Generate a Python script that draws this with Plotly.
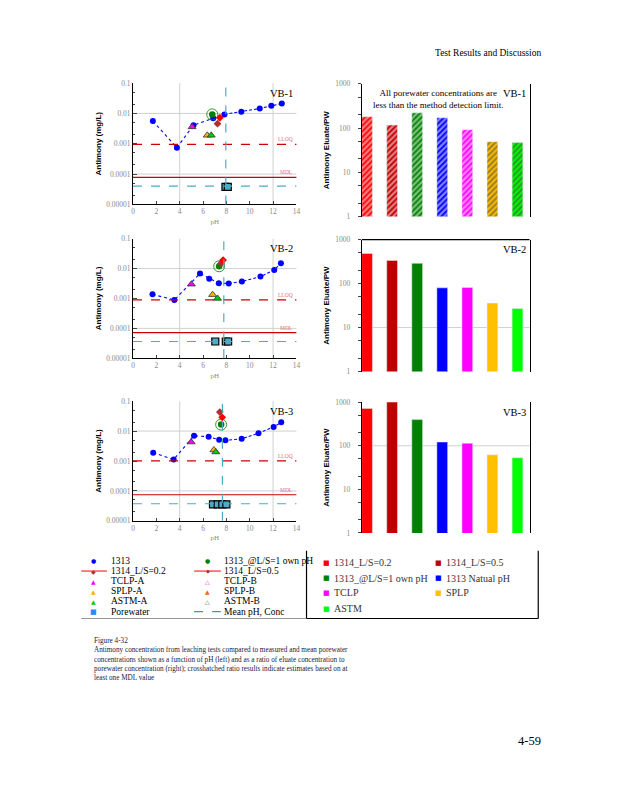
import math
import plotly.graph_objects as go

SERIF = "Liberation Serif"
SANS = "Liberation Sans"
GLYPH = "DejaVu Sans"

# ------------------------------------------------------------------ data
panels = ["VB-1", "VB-2", "VB-3"]

ph_1313 = {
    "VB-1": [1.70, 3.76, 5.18, 6.87, 7.83, 9.28, 10.86, 11.85, 12.75],
    "VB-2": [1.67, 3.54, 5.74, 6.53, 7.35, 8.20, 9.33, 10.92, 12.10, 12.67],
    "VB-3": [1.73, 3.48, 5.23, 6.48, 7.38, 7.92, 9.31, 10.75, 12.05, 12.70],
}
conc_1313 = {
    "VB-1": [0.0056, 0.00074, 0.0041, 0.0069, 0.0093, 0.0113, 0.0146, 0.0178, 0.0212],
    "VB-2": [0.00137, 0.00089, 0.0068, 0.0046, 0.00325, 0.00317, 0.0037, 0.0054, 0.0090, 0.0149],
    "VB-3": [0.0019, 0.00112, 0.0070, 0.0065, 0.0051, 0.0049, 0.0055, 0.0085, 0.0138, 0.0197],
}
ph_own = {"VB-1": [6.79], "VB-2": [7.38], "VB-3": [7.55]}
conc_own = {"VB-1": [0.0093], "VB-2": [0.0119], "VB-3": [0.0165]}
ph_ls02 = {"VB-1": [7.44], "VB-2": [7.72], "VB-3": [7.64]}
conc_ls02 = {"VB-1": [0.0072], "VB-2": [0.0192], "VB-3": [0.0288]}
ph_ls05 = {"VB-1": [7.24], "VB-2": [7.55], "VB-3": [7.44]}
conc_ls05 = {"VB-1": [0.0046], "VB-2": [0.0150], "VB-3": [0.0433]}
ph_tclp_a = {"VB-1": [5.06], "VB-2": [5.00], "VB-3": [4.98]}
conc_tclp_a = {"VB-1": [0.0036], "VB-2": [0.0030], "VB-3": [0.0043]}
ph_splp_a = {"VB-1": [6.36], "VB-2": [6.82], "VB-3": [6.93]}
conc_splp_a = {"VB-1": [0.0019], "VB-2": [0.00134], "VB-3": [0.00234]}
ph_astm_a = {"VB-1": [6.70], "VB-2": [7.24], "VB-3": [7.10]}
conc_astm_a = {"VB-1": [0.0019], "VB-2": [0.0010], "VB-3": [0.0020]}
ph_pore = {"VB-1": [7.92, 8.12], "VB-2": [7.05, 7.95, 8.15], "VB-3": [6.85, 7.25, 7.65, 8.00]}
conc_pore = {"VB-1": [0.000038, 0.000038], "VB-2": [0.0000363] * 3, "VB-3": [0.0000355] * 4}
mean_ph = {"VB-1": 7.95, "VB-2": 7.78, "VB-3": 7.66}
mean_conc = {"VB-1": 0.000040, "VB-2": 0.0000363, "VB-3": 0.0000372}
lloq = {"VB-1": 0.00095, "VB-2": 0.00089, "VB-3": 0.00101}
mdl = {"VB-1": 0.0000776, "VB-2": 0.0000723, "VB-3": 0.0000743}

bar_categories = ["1314_L/S=0.2", "1314_L/S=0.5", "1313_@L/S=1 own pH",
                  "1313 Natual pH", "TCLP", "SPLP", "ASTM"]
bar_colors = ["#FF0000", "#C00000", "#008000", "#0000FF", "#FF00FF", "#FFC000", "#00FF00"]
ratio = {
    "VB-1": [180, 117, 221, 171, 92, 49, 47],
    "VB-2": [485, 337, 289, 80, 82, 36, 27],
    "VB-3": [720, 1040, 398, 122, 114, 62, 53],
}
hatched = {"VB-1": True, "VB-2": False, "VB-3": False}

left_xticks = [0, 2, 4, 6, 8, 10, 12, 14]
left_yticks = [0.1, 0.01, 0.001, 0.0001, 0.00001]
left_yticktext = ["0.1", "0.01", "0.001", "0.0001", "0.00001"]
right_yticks = [1, 10, 100, 1000]
right_yticktext = ["1", "10", "100", "1000"]

# ------------------------------------------------------------------ layout helpers
W, H = 618, 800
def fx(px):
    return px / W
def fy(py):
    return 1 - py / H

left_dom_x = [fx(132.3), fx(297.3)]
right_dom_x = [fx(363.3), fx(532.7)]
left_dom_y = {"VB-1": (80.0, 202.7), "VB-2": (237.3, 358.3), "VB-3": (401.7, 522.7)}
right_dom_y = {"VB-1": (80.7, 215.0), "VB-2": (238.3, 371.7), "VB-3": (402.7, 535.0)}
split_idx = {"VB-1": 4, "VB-2": 4, "VB-3": 4}

TEAL = "#4BACC6"
TICKGREY = "#8a8a8a"

fig = go.Figure()
layout = dict(
    width=W, height=H, margin=dict(l=0, r=0, t=0, b=0),
    paper_bgcolor="white", plot_bgcolor="white", showlegend=False,
    font=dict(family=SERIF, size=9, color="black"),
)
shapes = []
annotations = []

for i, p in enumerate(panels):
    lx = 2 * i + 1
    rx = 2 * i + 2
    lxn = "x" if lx == 1 else f"x{lx}"
    lyn = "y" if lx == 1 else f"y{lx}"
    rxn = f"x{rx}"
    ryn = f"y{rx}"
    lxa = "xaxis" if lx == 1 else f"xaxis{lx}"
    lya = "yaxis" if lx == 1 else f"yaxis{lx}"

    # --- left axes
    y0, y1 = left_dom_y[p]
    layout[lxa] = dict(domain=left_dom_x, range=[0, 14], anchor=lyn,
                       tickvals=left_xticks, ticks="inside", ticklen=3,
                       showline=True, linecolor="black", linewidth=1,
                       showgrid=False, zeroline=False,
                       tickfont=dict(family=SERIF, size=7.5, color=TICKGREY),
                       title=dict(text="pH", font=dict(family=SERIF, size=7, color=TICKGREY), standoff=3))
    layout[lya] = dict(domain=[fy(y1), fy(y0)], type="log", range=[-5, -1], anchor=lxn,
                       tickvals=left_yticks, ticktext=left_yticktext, ticks="inside", ticklen=4,
                       minor=dict(ticks="inside", ticklen=2, dtick="D2", showgrid=False),
                       showline=True, linecolor="black", linewidth=1,
                       showgrid=False, zeroline=False,
                       tickfont=dict(family=SERIF, size=7.5, color=TICKGREY),
                       title=dict(text="<b>Antimony (mg/L)</b>", font=dict(family=SANS, size=8, color="black"), standoff=3))

    # grid lines (left)
    for gx in [4, 12]:
        shapes.append(dict(type="line", xref=lxn, yref=f"{lyn} domain", x0=gx, x1=gx, y0=0, y1=1,
                           line=dict(color="#d0d0d0", width=1), layer="below"))
    for gy in [0.01, 0.0001]:
        shapes.append(dict(type="line", xref=f"{lxn} domain", yref=lyn, x0=0, x1=1, y0=gy, y1=gy,
                           line=dict(color="#d0d0d0", width=1), layer="below"))
    # LLOQ / MDL / mean lines
    shapes.append(dict(type="line", xref=f"{lxn} domain", yref=lyn, x0=0, x1=1, y0=lloq[p], y1=lloq[p],
                       line=dict(color="#CC0000", width=1.2, dash="dash")))
    shapes.append(dict(type="line", xref=f"{lxn} domain", yref=lyn, x0=0, x1=1, y0=mdl[p], y1=mdl[p],
                       line=dict(color="#CC0000", width=1.2)))
    shapes.append(dict(type="line", xref=f"{lxn} domain", yref=lyn, x0=0, x1=1, y0=mean_conc[p], y1=mean_conc[p],
                       line=dict(color=TEAL, width=1.2, dash="dash")))
    shapes.append(dict(type="line", xref=lxn, yref=f"{lyn} domain", x0=mean_ph[p], x1=mean_ph[p], y0=0, y1=1,
                       line=dict(color=TEAL, width=1.2, dash="dash")))
    annotations.append(dict(text="LLOQ", xref=f"{lxn} domain", yref=lyn, x=0.99, y=math.log10(lloq[p]),
                            xanchor="right", yanchor="bottom", showarrow=False,
                            font=dict(family=SERIF, size=5.5, color="#E07070")))
    annotations.append(dict(text="MDL", xref=f"{lxn} domain", yref=lyn, x=0.99, y=math.log10(mdl[p]),
                            xanchor="right", yanchor="bottom", showarrow=False,
                            font=dict(family=SERIF, size=5.5, color="#E07070")))
    annotations.append(dict(text=p, xref=f"{lxn} domain", yref=f"{lyn} domain", x=0.99, y=0.98,
                            xanchor="right", yanchor="top", showarrow=False,
                            font=dict(family=SERIF, size=10.5, color="black")))

    # --- left traces
    k = split_idx[p]
    fig.add_trace(go.Scatter(x=ph_1313[p][:k + 1], y=conc_1313[p][:k + 1], mode="lines",
                             line=dict(color="#0000FF", width=1.1, dash="dot"), xaxis=lxn, yaxis=lyn))
    fig.add_trace(go.Scatter(x=ph_1313[p][k:], y=conc_1313[p][k:], mode="lines",
                             line=dict(color="#0000FF", width=1.1, dash="3px,2px"), xaxis=lxn, yaxis=lyn))
    fig.add_trace(go.Scatter(x=ph_pore[p], y=conc_pore[p], mode="markers", name="Porewater",
                             marker=dict(symbol="square", size=7, color=TEAL, line=dict(color="black", width=1.2)),
                             xaxis=lxn, yaxis=lyn))
    fig.add_trace(go.Scatter(x=ph_1313[p], y=conc_1313[p], mode="markers", name="1313",
                             marker=dict(symbol="circle", size=6, color="#0000FF"), xaxis=lxn, yaxis=lyn))
    fig.add_trace(go.Scatter(x=ph_tclp_a[p], y=conc_tclp_a[p], mode="markers", name="TCLP-A",
                             marker=dict(symbol="triangle-up", size=7, color="#FF00FF", line=dict(color="#333", width=0.8)),
                             xaxis=lxn, yaxis=lyn))
    fig.add_trace(go.Scatter(x=ph_splp_a[p], y=conc_splp_a[p], mode="markers", name="SPLP-A",
                             marker=dict(symbol="triangle-up", size=7, color="#FFB000", line=dict(color="#333", width=0.8)),
                             xaxis=lxn, yaxis=lyn))
    fig.add_trace(go.Scatter(x=ph_astm_a[p], y=conc_astm_a[p], mode="markers", name="ASTM-A",
                             marker=dict(symbol="triangle-up", size=7, color="#00CC00", line=dict(color="#333", width=0.8)),
                             xaxis=lxn, yaxis=lyn))
    fig.add_trace(go.Scatter(x=ph_own[p], y=conc_own[p], mode="markers", name="1313_@L/S=1 own pH",
                             marker=dict(symbol="circle", size=6.5, color="#008000"), xaxis=lxn, yaxis=lyn))
    fig.add_trace(go.Scatter(x=ph_own[p], y=conc_own[p], mode="markers", showlegend=False,
                             marker=dict(symbol="circle-open", size=11, color="#008000", line=dict(width=0.8)),
                             xaxis=lxn, yaxis=lyn))
    fig.add_trace(go.Scatter(x=ph_ls05[p], y=conc_ls05[p], mode="markers", name="1314_L/S=0.5",
                             marker=dict(symbol="diamond", size=6, color="#B03030"), xaxis=lxn, yaxis=lyn))
    fig.add_trace(go.Scatter(x=ph_ls02[p], y=conc_ls02[p], mode="markers", name="1314_L/S=0.2",
                             marker=dict(symbol="diamond", size=6, color="#FF0000"), xaxis=lxn, yaxis=lyn))

    # --- right axes
    ry0, ry1 = right_dom_y[p]
    layout[f"xaxis{rx}"] = dict(domain=right_dom_x, anchor=ryn, type="category",
                                range=[-0.21, 6.48], showticklabels=False, showline=False,
                                showgrid=False, zeroline=False, ticks="")
    layout[f"yaxis{rx}"] = dict(domain=[fy(ry1), fy(ry0)], anchor=rxn, type="log", range=[0, 3],
                                tickvals=right_yticks, ticktext=right_yticktext,
                                ticks="outside", ticklen=3, ticklabelstandoff=6,
                                minor=dict(ticks="outside", ticklen=3, dtick="D2", showgrid=False),
                                showline=True, mirror=True, linecolor="black", linewidth=1.2,
                                showgrid=False, zeroline=False,
                                tickfont=dict(family=SERIF, size=7.5, color=TICKGREY),
                                title=dict(text="<b>Antimony Eluate/PW</b>",
                                           font=dict(family=SANS, size=8, color="black"), standoff=4))
    annotations.append(dict(text=p, xref=f"{rxn} domain", yref=f"{ryn} domain", x=0.99, y=0.98,
                            xanchor="right", yanchor="top", showarrow=False,
                            font=dict(family=SERIF, size=10.5, color="black")))
    if p == "VB-2":
        shapes.append(dict(type="line", xref=f"{rxn} domain", yref=f"{ryn} domain", x0=0, x1=1, y0=1, y1=1,
                           line=dict(color="black", width=1.2)))
        shapes.append(dict(type="line", xref=f"{rxn} domain", yref=ryn, x0=0, x1=1, y0=10, y1=10,
                           line=dict(color="#d0d0d0", width=1), layer="below"))
    if p == "VB-3":
        shapes.append(dict(type="line", xref=f"{rxn} domain", yref=ryn, x0=0, x1=1, y0=100, y1=100,
                           line=dict(color="#d0d0d0", width=1), layer="below"))

    marker = dict(color=bar_colors)
    if hatched[p]:
        marker = dict(color=bar_colors,
                      pattern=dict(shape="/", fgcolor=bar_colors, bgcolor="white", size=4, solidity=0.55))
    fig.add_trace(go.Bar(x=bar_categories, y=ratio[p], width=0.43, marker=marker,
                         xaxis=rxn, yaxis=ryn))

annotations.append(dict(text="All porewater concentrations are<br>less than the method detection limit.",
                        xref="paper", yref="paper", x=fx(440), y=fy(83), xanchor="center", yanchor="top",
                        showarrow=False, align="center",
                        font=dict(family=SERIF, size=9, color="black")))

# ------------------------------------------------------------------ legends (drawn as text)
left_rows = [563.3, 573.5, 583.7, 593.9, 604.1, 614.5]
left_items = [
    (('<span style="color:#0000FF">●</span>', 6), "1313", ('<span style="color:#008000">●</span>', 6), "1313_@L/S=1 own pH"),
    (('<span style="color:#B03030">◆</span>', 6), "1314_L/S=0.2", ('<span style="color:#B03030">◆</span>', 5), "1314_L/S=0.5"),
    (('<span style="color:#FF00FF">▲</span>', 6), "TCLP-A", ('<span style="color:#CC33CC">△</span>', 6), "TCLP-B"),
    (('<span style="color:#FFB000">▲</span>', 6), "SPLP-A", ('<span style="color:#FF6600">▲</span>', 6), "SPLP-B"),
    (('<span style="color:#00CC00">▲</span>', 6), "ASTM-A", ('<span style="color:#556B2F">△</span>', 6), "ASTM-B"),
    (('<span style="color:#1E90FF">■</span>', 7), "Porewater", None, "Mean pH, Conc"),
]
for ry, (g1, t1, g2, t2) in zip(left_rows, left_items):
    annotations.append(dict(text=g1[0], xref="paper", yref="paper", x=fx(92), y=fy(ry), showarrow=False,
                            xanchor="center", yanchor="middle", font=dict(family=GLYPH, size=g1[1])))
    annotations.append(dict(text=t1, xref="paper", yref="paper", x=fx(108), y=fy(ry), showarrow=False,
                            xanchor="left", yanchor="middle", font=dict(family=SERIF, size=9.5, color="black")))
    if g2 is not None:
        annotations.append(dict(text=g2[0], xref="paper", yref="paper", x=fx(208), y=fy(ry), showarrow=False,
                                xanchor="center", yanchor="middle", font=dict(family=GLYPH, size=g2[1])))
    annotations.append(dict(text=t2, xref="paper", yref="paper", x=fx(222), y=fy(ry), showarrow=False,
                            xanchor="left", yanchor="middle", font=dict(family=SERIF, size=9.5, color="black")))
# line keys
shapes.append(dict(type="line", xref="paper", yref="paper", x0=fx(80), x1=fx(106), y0=fy(573.5), y1=fy(573.5),
                   line=dict(color="#FF0000", width=1), layer="below"))
shapes.append(dict(type="line", xref="paper", yref="paper", x0=fx(194), x1=fx(221), y0=fy(573.5), y1=fy(573.5),
                   line=dict(color="#FF0000", width=1), layer="below"))
shapes.append(dict(type="line", xref="paper", yref="paper", x0=fx(194), x1=fx(221), y0=fy(614.5), y1=fy(614.5),
                   line=dict(color="#1E9FE0", width=1.2, dash="dash")))
shapes.append(dict(type="line", xref="paper", yref="paper", x0=fx(80), x1=fx(307), y0=fy(621.5), y1=fy(621.5),
                   line=dict(color="#999999", width=1)))
# right legend box
shapes.append(dict(type="rect", xref="paper", yref="paper", x0=fx(307.5), x1=fx(541.5), y0=fy(621.5), y1=fy(553),
                   line=dict(color="rgba(0,0,0,0)", width=0), fillcolor="white"))
for x0, y0, x1, y1 in [(307.5, 553, 307.5, 621.5), (307.5, 621.5, 541.5, 621.5), (541.5, 553, 541.5, 621.5)]:
    shapes.append(dict(type="line", xref="paper", yref="paper", x0=fx(x0), x1=fx(x1), y0=fy(y0), y1=fy(y1),
                       line=dict(color="black", width=1.2)))
right_rows = [565, 581, 595.5, 611.5]
for j, (cat, col) in enumerate(zip(bar_categories, bar_colors)):
    r = j // 2
    c = j % 2
    gx = 328 if c == 0 else 440.7
    tx = 333.5 if c == 0 else 446
    annotations.append(dict(text=f'<span style="color:{col}">■</span>', xref="paper", yref="paper",
                            x=fx(gx), y=fy(right_rows[r]), showarrow=False, xanchor="center", yanchor="middle",
                            font=dict(family=GLYPH, size=7)))
    annotations.append(dict(text=cat, xref="paper", yref="paper", x=fx(tx), y=fy(right_rows[r]), showarrow=False,
                            xanchor="left", yanchor="middle", font=dict(family=SERIF, size=10, color="#333333")))

# ------------------------------------------------------------------ page texts
annotations.append(dict(text="Test Results and Discussion", xref="paper", yref="paper", x=fx(546), y=fy(50),
                        xanchor="right", yanchor="middle", showarrow=False,
                        font=dict(family=SERIF, size=9.5, color="black")))
annotations.append(dict(text="4-59", xref="paper", yref="paper", x=fx(546), y=fy(745),
                        xanchor="right", yanchor="middle", showarrow=False,
                        font=dict(family=SERIF, size=12.5, color="black")))
caption = ("Figure 4-32<br>"
           "Antimony concentration from leaching tests compared to measured and mean porewater<br>"
           "concentrations shown as a function of pH (left) and as a ratio of eluate concentration to<br>"
           "porewater concentration (right); crosshatched ratio results indicate estimates based on at<br>"
           "least one MDL value")
annotations.append(dict(text=caption, xref="paper", yref="paper", x=fx(91), y=fy(638),
                        xanchor="left", yanchor="top", align="left", showarrow=False,
                        font=dict(family=SERIF, size=7.2, color="#1a1a3a")))

layout["shapes"] = shapes
layout["annotations"] = annotations
layout["bargap"] = 0.5
fig.update_layout(**layout)
fig.write_html("out.html", config={"displayModeBar": False},
               post_script="document.body.style.margin='0';document.body.style.overflow='hidden';")
